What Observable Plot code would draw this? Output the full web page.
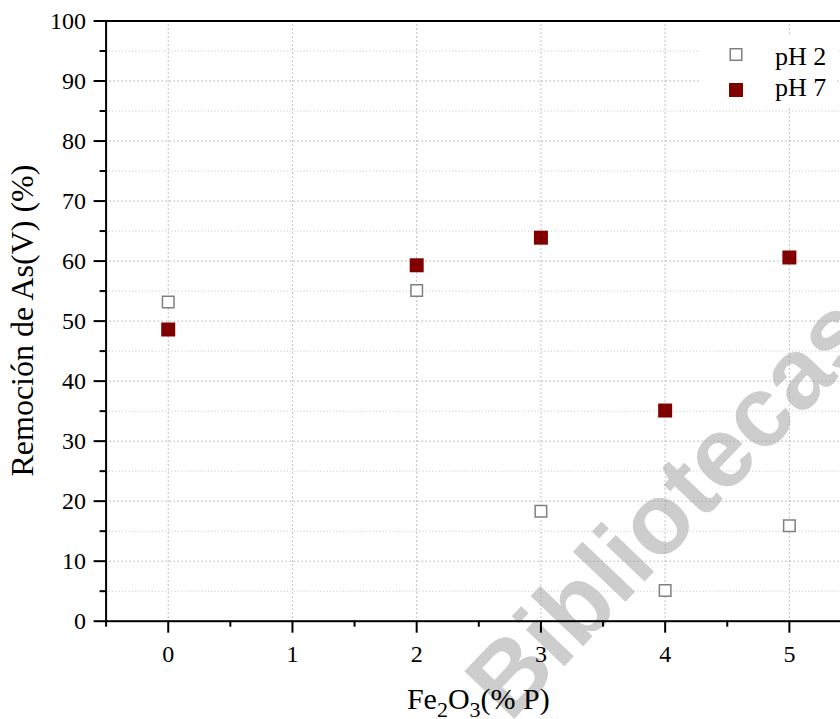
<!DOCTYPE html>
<html>
<head>
<meta charset="utf-8">
<script src="https://cdn.jsdelivr.net/npm/d3@7"></script>
<script src="https://cdn.jsdelivr.net/npm/@observablehq/plot@0.6"></script>
<style>
  html, body { margin: 0; padding: 0; background: #fff; overflow: hidden; }
  #wrap { position: relative; width: 840px; height: 719px; overflow: hidden; }
  #watermark {
    position: absolute; left: 668px; top: 506px;
    transform: translate(-50%, -50%) rotate(-46.5deg);
    font: bold 100px "Liberation Sans", Arial, sans-serif;
    color: #cdcdcd; line-height: 1; white-space: nowrap; z-index: 0;
  }
  #chart { position: absolute; left: 0; top: 0; z-index: 1; }
</style>
</head>
<body>
<div id="wrap">
  <div id="watermark">Bibliotecas</div>
  <div id="chart"></div>
</div>
<script>
// Fe2O3 content (% P) and As(V) removal (%) at two pH values
const fe2o3 = [0, 2, 3, 4, 5];
const removalPH2 = [53.2, 55.1, 18.3, 5.1, 15.9];
const removalPH7 = [48.6, 59.3, 63.9, 35.1, 60.6];
const seriesNames = ["pH 2", "pH 7"];

// axis ticks
const xMajorTicks = [0, 1, 2, 3, 4, 5];
const xMinorTicks = [-0.5, 0.5, 1.5, 2.5, 3.5, 4.5, 5.5];
const yMajorTicks = [0, 10, 20, 30, 40, 50, 60, 70, 80, 90, 100];
const yMinorTicks = [5, 15, 25, 35, 45, 55, 65, 75, 85, 95];
const yTitle = "Remoción de As(V) (%)";

const rowsPH2 = fe2o3.map((x, i) => ({x, y: removalPH2[i]}));
const rowsPH7 = fe2o3.map((x, i) => ({x, y: removalPH7[i]}));

const serif = "Liberation Serif";
const rOpen = 6.5, rFilled = 7.9;
const openStroke = "#808080", filledColor = "#800000";
const dotted = {stroke: "#9a9a9a", strokeOpacity: 1, strokeDasharray: "1.2,2.8"};
const dottedLight = {stroke: "#c4c4c4", strokeOpacity: 1, strokeDasharray: "1,2.3"};

const chart = Plot.plot({
  width: 860,
  height: 719,
  marginLeft: 105.6,
  marginRight: 9,
  marginTop: 20.5,
  marginBottom: 98.3,
  style: {background: "transparent", maxWidth: "none", color: "black"},
  x: {domain: [-0.5, 5.5]},
  y: {domain: [0, 100]},
  marks: [
    Plot.gridY(yMinorTicks, dottedLight),
    Plot.gridY(yMajorTicks.slice(1, -1), dotted),
    Plot.gridX(xMajorTicks, dotted),
    Plot.axisY(yMajorTicks, {tickSize: 12, tickPadding: 8, stroke: "black", strokeWidth: 2, tickFormat: d3.format("d"), label: null, fontSize: 24}),
    Plot.axisY(yMinorTicks, {tickSize: 6, tickFormat: () => "", stroke: "black", strokeWidth: 2, label: null}),
    Plot.axisX(xMajorTicks, {tickSize: 12, tickPadding: 12, stroke: "black", strokeWidth: 2, tickFormat: d3.format("d"), label: null, fontSize: 24}),
    Plot.axisX(xMinorTicks, {tickSize: 6, tickFormat: () => "", stroke: "black", strokeWidth: 2, label: null}),
    Plot.frame({stroke: "black", strokeWidth: 2}),
    Plot.dot(rowsPH2, {x: "x", y: "y", symbol: "square", r: rOpen, fill: "white", stroke: openStroke, strokeWidth: 1.5}),
    Plot.dot(rowsPH7, {x: "x", y: "y", symbol: "square", r: rFilled, fill: filledColor, stroke: "none"})
  ]
});
document.getElementById("chart").appendChild(chart);

const svg = d3.select(chart);
// serif tick labels
svg.selectAll("text").style("font-family", serif).attr("fill", "black");

// Axis titles and the in-frame legend
const [x0, x1] = chart.scale("x").range;
const [yb, yt] = chart.scale("y").range;

const xt = svg.append("text")
  .attr("x", (x0 + x1) / 2).attr("y", yb + 88)
  .attr("text-anchor", "middle")
  .style("font-family", serif).attr("font-size", 30).attr("fill", "black");
xt.append("tspan").text("Fe");
xt.append("tspan").attr("dy", 8).attr("font-size", 22).text("2");
xt.append("tspan").attr("dy", -8).text("O");
xt.append("tspan").attr("dy", 8).attr("font-size", 22).text("3");
xt.append("tspan").attr("dy", -8).text("(% P)");

svg.append("text")
  .attr("transform", `translate(${x0 - 72.6},${(yb + yt) / 2}) rotate(-90)`)
  .attr("text-anchor", "middle")
  .style("font-family", serif).attr("font-size", 32).attr("fill", "black")
  .text(yTitle);

const legend = svg.append("g");
legend.append("rect")
  .attr("x", x1 - 151).attr("y", yt + 13.5).attr("width", 137).attr("height", 74)
  .attr("fill", "white");
const sOpen = rOpen * Math.sqrt(Math.PI), sFilled = rFilled * Math.sqrt(Math.PI);
const legendRows = [
  {name: seriesNames[0], cy: yt + 34, base: yt + 44.5, size: sOpen, fill: "white", stroke: openStroke},
  {name: seriesNames[1], cy: yt + 69.5, base: yt + 75.5, size: sFilled, fill: filledColor, stroke: "none"}
];
for (const d of legendRows) {
  legend.append("rect")
    .attr("x", x1 - 115 - d.size / 2).attr("y", d.cy - d.size / 2)
    .attr("width", d.size).attr("height", d.size)
    .attr("fill", d.fill).attr("stroke", d.stroke).attr("stroke-width", 1.5);
  legend.append("text")
    .attr("x", x1 - 76).attr("y", d.base)
    .attr("text-anchor", "start")
    .style("font-family", serif).attr("font-size", 26).attr("fill", "black")
    .text(d.name);
}
</script>
</body>
</html>
